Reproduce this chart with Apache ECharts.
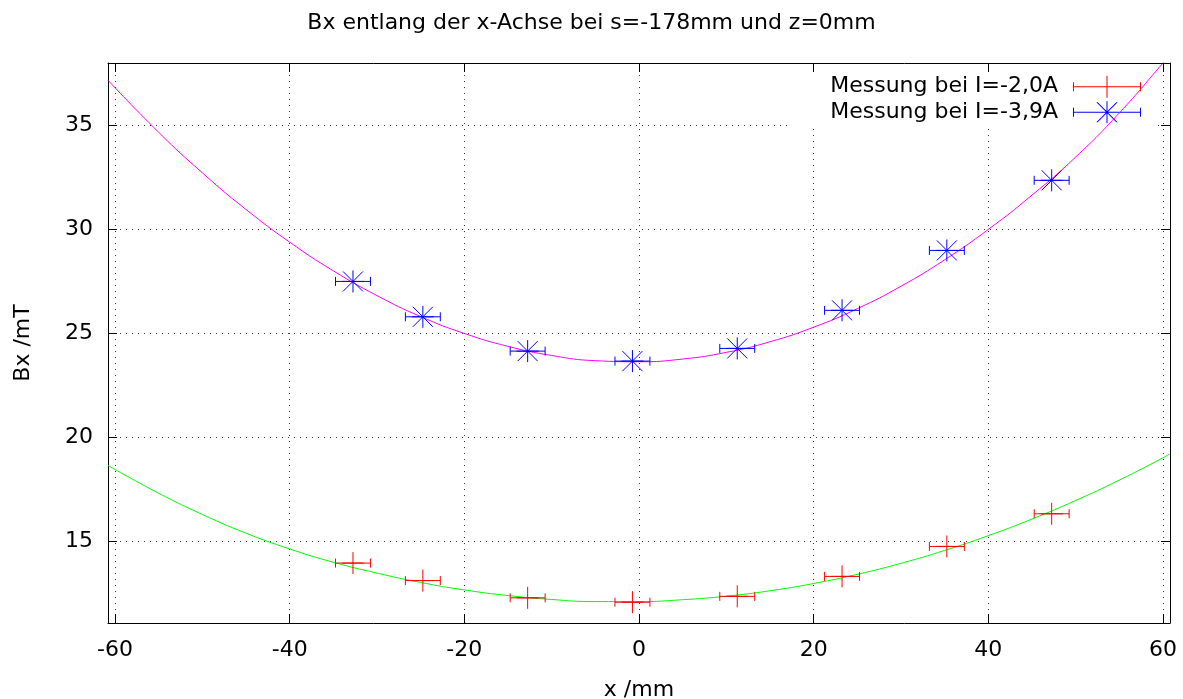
<!DOCTYPE html>
<html><head><meta charset="utf-8">
<script src="https://cdn.jsdelivr.net/npm/echarts@6/dist/echarts.min.js"></script>
<style>html,body{margin:0;padding:0;background:#fff}#c{width:1183px;height:699px}</style>
</head><body><div id="c"></div>
<script>
// Measurement positions (x / mm) and horizontal errors
const xPos = [-32.75, -24.75, -12.75, -0.75, 11.25, 23.25, 35.25, 47.25];
const xErr = [2, 2, 2, 2, 2, 2, 2, 2];
// Measured Bx (mT)
const bRed  = [13.96, 13.12, 12.29, 12.08, 12.36, 13.32, 14.76, 16.33]; // I=-2,0A
const bBlue = [27.50, 25.80, 24.15, 23.67, 24.28, 26.11, 28.99, 32.36]; // I=-3,9A
// Fit curves
const fitX       = [-60.8, -55, -50, -45, -40, -35, -30, -25, -20, -15, -10, -5, 0, 5, 10, 15, 20, 25, 30, 35, 40, 45, 50, 55, 60, 60.8];
const fitMagenta = [37.17, 34.67, 32.72, 30.96, 29.39, 28.01, 26.82, 25.81, 25.00, 24.38, 23.94, 23.69, 23.64, 23.77, 24.09, 24.60, 25.30, 26.19, 27.27, 28.54, 30.00, 31.65, 33.48, 35.60, 38.00, 38.40];
const fitGreen   = [18.65, 17.32, 16.30, 15.40, 14.64, 14.00, 13.48, 13.03, 12.67, 12.40, 12.21, 12.11, 12.11, 12.20, 12.37, 12.63, 12.98, 13.42, 13.95, 14.57, 15.28, 16.08, 16.97, 17.95, 19.02, 19.22];
// Tick labels
const xTicks = [-60, -40, -20, 0, 20, 40, 60];
const yTicks = [15, 20, 25, 30, 35];
const seriesNames = ['Messung bei I=-2,0A', 'Messung bei I=-3,9A'];
const titleText = 'Bx entlang der x-Achse bei s=-178mm und z=0mm';

const FONT = 'DejaVu Sans';
const chart = echarts.init(document.getElementById('c'), null, {renderer: 'canvas'});

function makeErr(kind, color) {
  return function (params, api) {
    const x = api.value(0), y = api.value(1), e = api.value(2);
    const c = api.coord([x, y]);
    const l = api.coord([x - e, y]);
    const r = api.coord([x + e, y]);
    const s = 11, cap = 4.5, d = 10;
    const st = {stroke: color, lineWidth: 1, fill: null};
    const ch = [
      {type: 'line', shape: {x1: l[0], y1: c[1], x2: r[0], y2: c[1]}, style: st},
      {type: 'line', shape: {x1: l[0], y1: c[1] - cap, x2: l[0], y2: c[1] + cap}, style: st},
      {type: 'line', shape: {x1: r[0], y1: c[1] - cap, x2: r[0], y2: c[1] + cap}, style: st},
      {type: 'line', shape: {x1: c[0] - s, y1: c[1], x2: c[0] + s, y2: c[1]}, style: st},
      {type: 'line', shape: {x1: c[0], y1: c[1] - s, x2: c[0], y2: c[1] + s}, style: st}
    ];
    if (kind === 'star') {
      ch.push({type: 'line', shape: {x1: c[0] - d, y1: c[1] - d, x2: c[0] + d, y2: c[1] + d}, style: st});
      ch.push({type: 'line', shape: {x1: c[0] - d, y1: c[1] + d, x2: c[0] + d, y2: c[1] - d}, style: st});
    }
    return {type: 'group', children: ch};
  };
}

const blank = 'M0 11 L0.01 11 L0.01 11.01 Z ';
const barIcon = 'M10 10.5 H78 V11.5 H10 Z M10 6.5 H11 V15.5 H10 Z M77 6.5 H78 V15.5 H77 Z ';
const plusIcon = 'M43.5 0 H44.5 V22 H43.5 Z M33 10.5 H55 V11.5 H33 Z ';
const xIcon = 'M33.3 1 L34.7 1 L54.7 21 L53.3 21 Z M53.3 1 L54.7 1 L34.7 21 L33.3 21 Z ';
const redIcon = 'path://' + blank + barIcon + plusIcon;
const blueIcon = 'path://' + blank + barIcon + plusIcon + xIcon;

const gridDot = {color: '#333', width: 1, type: [1, 5]};
const axisLineStyle = {show: true, onZero: false, lineStyle: {color: '#000', width: 1}};
const tickStyle = {show: true, inside: true, length: 9, lineStyle: {color: '#000', width: 1}};

const option = {
  backgroundColor: '#fff',
  animation: false,
  title: {
    text: titleText, left: 'center', top: 7,
    textStyle: {fontFamily: FONT, fontSize: 22, fontWeight: 'normal', color: '#000'}
  },
  grid: {left: 108, right: 13, top: 63, bottom: 76, containLabel: false, outerBoundsMode: 'none'},
  legend: {
    orient: 'vertical', align: 'right', right: 30, top: 63,
    padding: [12.7, 12, 2.7, 43], backgroundColor: '#fff', z: 1,
    itemWidth: 78, itemHeight: 22, itemGap: 3.6,
    itemStyle: {borderWidth: 0},
    textStyle: {fontFamily: FONT, fontSize: 22, color: '#000'},
    data: [{name: seriesNames[0], icon: redIcon}, {name: seriesNames[1], icon: blueIcon}],
    selectedMode: false
  },
  xAxis: [
    {
      type: 'value', position: 'bottom', min: -60.8, max: 60.8, z: 0,
      axisLine: axisLineStyle,
      axisTick: Object.assign({}, tickStyle, {customValues: xTicks}),
      axisLabel: {customValues: xTicks, fontFamily: FONT, fontSize: 22, color: '#000', margin: 16},
      splitLine: {show: true, lineStyle: gridDot},
      name: 'x /mm', nameLocation: 'middle', nameGap: 56,
      nameTextStyle: {fontFamily: FONT, fontSize: 22, color: '#000'}
    },
    {
      type: 'value', position: 'top', min: -60.8, max: 60.8, z: 3,
      axisLine: axisLineStyle,
      axisTick: Object.assign({}, tickStyle, {customValues: xTicks}),
      axisLabel: {show: false}, splitLine: {show: false}
    }
  ],
  yAxis: [
    {
      type: 'value', position: 'left', min: 11.08, max: 38, z: 0,
      axisLine: axisLineStyle,
      axisTick: Object.assign({}, tickStyle, {customValues: yTicks}),
      axisLabel: {customValues: yTicks, fontFamily: FONT, fontSize: 22, color: '#000', margin: 15},
      splitLine: {show: true, lineStyle: gridDot},
      name: 'Bx /mT', nameLocation: 'middle', nameGap: 74, nameRotate: 90,
      nameTextStyle: {fontFamily: FONT, fontSize: 22, color: '#000'}
    },
    {
      type: 'value', position: 'right', min: 11.08, max: 38, z: 3,
      axisLine: axisLineStyle,
      axisTick: Object.assign({}, tickStyle, {customValues: yTicks}),
      axisLabel: {show: false}, splitLine: {show: false}
    }
  ],
  series: [
    {
      name: 'fitBlue', type: 'line', z: 2, smooth: true, showSymbol: false, symbol: 'none',
      data: fitX.map((x, i) => [x, fitMagenta[i]]),
      lineStyle: {color: '#ff00ff', width: 1}, itemStyle: {color: '#ff00ff'}
    },
    {
      name: 'fitRed', type: 'line', z: 2, smooth: true, showSymbol: false, symbol: 'none',
      data: fitX.map((x, i) => [x, fitGreen[i]]),
      lineStyle: {color: '#00ff00', width: 1}, itemStyle: {color: '#00ff00'}
    },
    {
      name: seriesNames[0], type: 'custom', z: 3,
      itemStyle: {color: '#ff0000'},
      renderItem: makeErr('plus', '#ff0000'),
      encode: {x: 0, y: 1},
      data: xPos.map((x, i) => [x, bRed[i], xErr[i]])
    },
    {
      name: seriesNames[1], type: 'custom', z: 3,
      itemStyle: {color: '#0000ff'},
      renderItem: makeErr('star', '#0000ff'),
      encode: {x: 0, y: 1},
      data: xPos.map((x, i) => [x, bBlue[i], xErr[i]])
    }
  ]
};
chart.setOption(option);
</script>
</body></html>
